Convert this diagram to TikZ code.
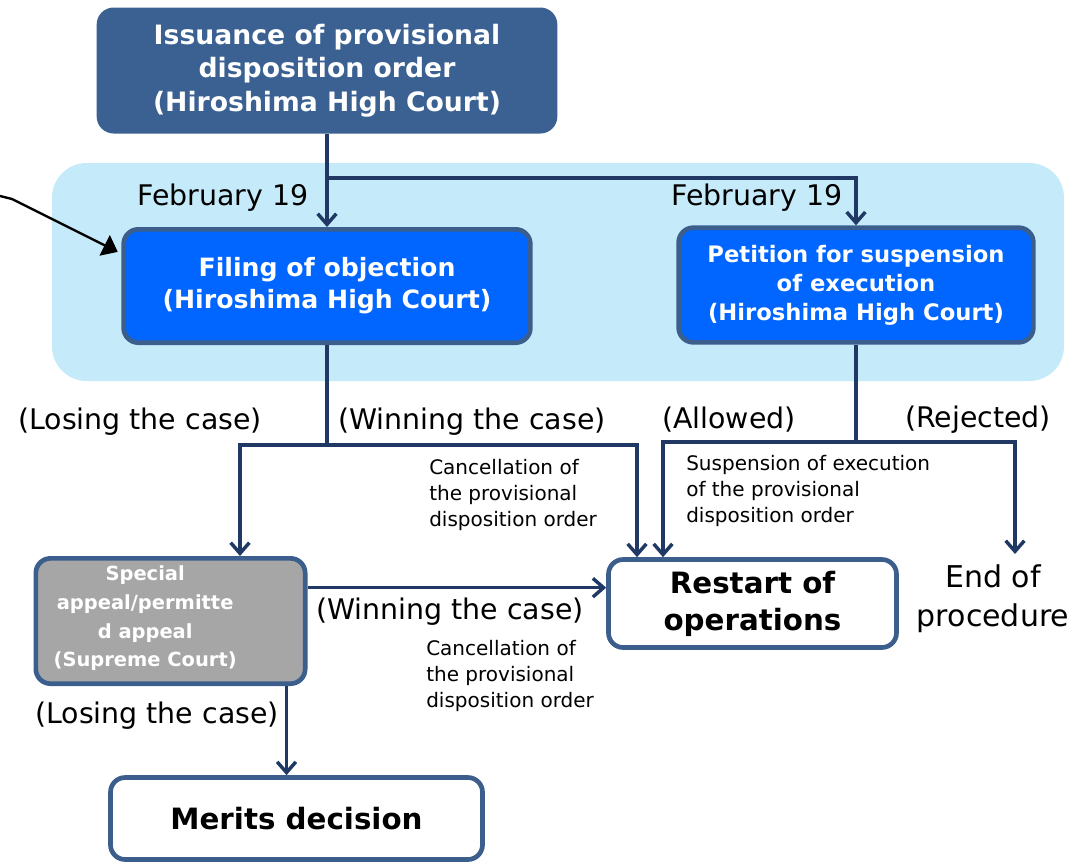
\documentclass[tikz,border=0pt]{standalone}
\usepackage{fontspec}
\setmainfont{DejaVu Sans}
\usepackage{xcolor}
\usetikzlibrary{arrows.meta, positioning, calc}

\definecolor{navy}{RGB}{31,56,100}
\definecolor{boxline}{RGB}{59,94,140}
\definecolor{issuefill}{RGB}{58,97,146}
\definecolor{courtfill}{RGB}{0,102,255}
\definecolor{bandblue}{RGB}{197,235,250}
\definecolor{greyfill}{RGB}{166,166,166}

\newcommand{\fs}[2]{\fontsize{#1}{#2}\selectfont}

\tikzset{
    >={Straight Barb[length=8pt,width=14pt]}, % open chevron heads
    box/.style={rounded corners=11pt, draw=boxline, line width=3.5pt, align=center, inner sep=0pt},
    issuebox/.style={box, fill=issuefill, draw=issuefill, text=white, font=\bfseries\fs{20}{25},
        minimum width=342pt, minimum height=91pt},
    courtbox/.style={box, fill=courtfill, text=white},
    endbox/.style={box, fill=white, text=black, font=\bfseries\fs{22}{27.75}},
    lbl/.style={font=\fs{21.3}{26}, inner sep=0pt},
    note/.style={font=\fs{15}{19.5}, align=left, anchor=west, inner sep=0pt},
}
\tikzstyle{flow} = [draw=navy, line width=2.6pt, ->]
\tikzstyle{pointer} = [draw=black, line width=1.8pt, -{Triangle[length=11pt,width=17pt]}, shorten >=3pt]

\begin{document}
\begin{tikzpicture}[x=0.75pt, y=-0.75pt]
    \useasboundingbox (0,0) rectangle (1078,865);
    % band behind the two filings
    \fill[bandblue, rounded corners=26pt] (52,163) rectangle (1064,381);

    % Boxes
    \node[issuebox] (issue) at (327,70.5) {Issuance of provisional\\disposition order\\(Hiroshima High Court)};
    \node[courtbox, font=\bfseries\fs{18.9}{24}, minimum width=305pt, minimum height=85pt]
        (filing) at (327,286) {Filing of objection\\(Hiroshima High Court)};
    \node[courtbox, font=\bfseries\fs{17}{21.75}, minimum width=266pt, minimum height=86pt]
        (petition) at (856,285) {Petition for suspension\\of execution\\(Hiroshima High Court)};
    \node[box, fill=greyfill, minimum width=202pt, minimum height=94pt,
        label={[text=white, font=\bfseries\fs{14.6}{21.5}, align=center, xshift=-19pt, yshift=2pt]center:Special\\appeal/permitte\\d appeal\\(Supreme Court)}]
        (special) at (170.5,621) {};
    \node[endbox, minimum width=216pt, minimum height=66pt] (restart) at (752.5,603.5) {Restart of\\operations};
    \node[endbox, minimum width=279pt, minimum height=61.5pt] (merits) at (296.5,818.5) {Merits decision};
    \node[font=\fs{22.5}{29}, align=center, inner sep=0pt, outer sep=8pt, anchor=north]
        (endproc) at (993,554) {End of\\procedure};

    % Labels
    \node[lbl] (feb1) at (223,198) {February 19};
    \node[lbl] (feb2) at (757,198) {February 19};
    \node[lbl] (lose1) at (140,422) {(Losing the case)};
    \node[lbl] (win1) at (472,422) {(Winning the case)};
    \node[lbl] (allow) at (729,420) {(Allowed)};
    \node[lbl] (reject) at (978,420) {(Rejected)};
    \node[note] (cancel1) at (429,495) {Cancellation of\\the provisional\\disposition order};
    \node[note] (susp) at (686,491) {Suspension of execution\\of the provisional\\disposition order};
    \node[lbl] (win2) at (450,612) {(Winning the case)};
    \node[note] (cancel2) at (426,676) {Cancellation of\\the provisional\\disposition order};
    \node[lbl] (lose2) at (157,716) {(Losing the case)};

    % Junctions
    \coordinate (split) at (issue.south |- 0,178);
    \coordinate (fl) at (240,445);
    \coordinate (fw) at (637,445);
    \coordinate (pa) at (663,442);
    \coordinate (pr) at (1015,442);
    \coordinate (sw) at ([yshift=25pt]special.east);
    \coordinate (sl) at ([xshift=87pt]special.south);
    \coordinate (ext) at (0,196);
    \coordinate (bend) at (12,199);

    % Connectors
    \draw[flow] (issue) -- (filing);
    \draw[flow] (split) -| (petition.north);
    \draw[flow] (filing) -- (filing.south |- fl) -- (fl) -- (fl |- special.north);
    \draw[flow] (filing.south |- fw) -- (fw) -- (fw |- restart.north);
    \draw[flow] (petition) -- (petition.south |- pa) -- (pa) -- (pa |- restart.north);
    \draw[flow] (petition.south |- pr) -- (pr) -- (pr |- endproc.north);
    \draw[flow] (sw) -- (sw -| restart.west);
    \draw[flow] (sl) -- (sl |- merits.north);
    \draw[pointer] (ext) -- (bend) -- ([yshift=-20pt]filing.north west);
\end{tikzpicture}
\end{document}
